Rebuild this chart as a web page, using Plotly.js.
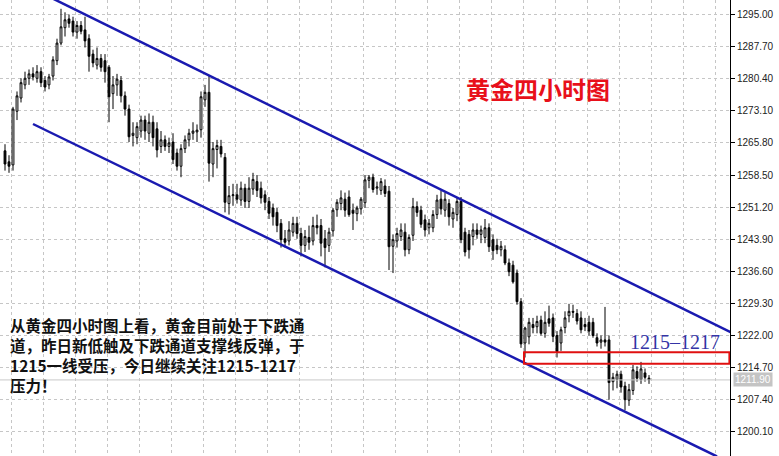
<!DOCTYPE html>
<html>
<head>
<meta charset="utf-8">
<script src="https://cdn.plot.ly/plotly-3.0.1.min.js"></script>
<style>html,body{margin:0;padding:0;background:#fff;}#chart{width:779px;height:456px;}</style>
</head>
<body>
<div id="chart"></div>
<script>
// ---- data ----
const openP = [1264.0,1261.5,1260.8,1273.0,1276.0,1279.0,1280.5,1281.5,1280.5,1282.0,1280.0,1279.0,1281.0,1284.5,1288.5,1292.0,1294.0,1293.5,1291.0,1292.5,
1291.5,1289.5,1286.0,1283.5,1285.0,1284.5,1283.0,1277.0,1279.0,1280.0,1276.5,1273.5,1267.5,1267.0,1268.5,1271.0,1268.0,1270.5,1269.0,1265.0,
1266.5,1265.0,1266.0,1263.5,1260.5,1264.5,1266.5,1268.0,1268.3,1268.8,1275.6,1277.3,1261.0,1264.3,1265.0,1262.5,1252.0,1253.8,1254.0,1252.8,
1255.5,1252.5,1255.3,1257.0,1255.5,1254.0,1252.5,1251.0,1250.0,1247.5,1244.0,1243.5,1245.5,1247.5,1245.2,1242.5,1244.3,1243.5,1247.0,1247.0,
1244.0,1242.5,1245.8,1250.6,1252.0,1253.0,1253.5,1250.5,1249.7,1250.8,1252.2,1257.3,1258.0,1255.5,1255.0,1256.0,1254.8,1242.3,1243.5,1244.5,
1245.5,1241.5,1244.8,1251.3,1250.5,1248.3,1246.5,1246.5,1249.5,1253.0,1250.5,1252.0,1248.5,1249.5,1252.5,1245.5,1245.0,1244.5,1246.0,1245.0,
1244.3,1246.5,1243.8,1242.5,1241.5,1241.5,1238.5,1238.0,1236.2,1229.7,1220.3,1221.7,1224.5,1224.0,1225.5,1222.5,1225.8,1226.0,1222.0,1220.3,
1223.8,1226.5,1227.5,1227.0,1226.0,1224.5,1225.0,1225.0,1221.5,1220.5,1221.0,1221.0,1211.5,1212.0,1213.2,1210.5,1207.3,1209.5,1213.8,1212.0,
1213.5,1212.3];
const highP = [1265.5,1263.0,1274.0,1277.5,1280.5,1282.0,1282.5,1283.0,1283.5,1283.0,1281.0,1281.5,1285.5,1289.5,1296.3,1295.5,1295.0,1294.5,1293.5,1293.5,
1294.5,1290.5,1287.0,1287.5,1286.0,1286.0,1283.5,1281.0,1281.5,1281.0,1277.5,1274.5,1270.5,1270.5,1272.0,1272.0,1272.5,1272.0,1270.5,1268.5,
1267.5,1267.0,1268.0,1264.5,1265.5,1267.5,1269.0,1270.5,1270.0,1277.5,1279.0,1281.0,1266.0,1266.5,1266.5,1263.5,1256.0,1256.5,1256.5,1257.0,
1256.5,1258.0,1259.0,1258.5,1257.0,1255.0,1253.5,1252.0,1251.0,1248.5,1246.0,1248.0,1249.0,1249.0,1246.5,1246.0,1247.0,1249.0,1249.5,1248.5,
1246.0,1246.5,1251.0,1253.0,1255.0,1254.5,1255.0,1252.0,1251.5,1253.5,1258.5,1258.5,1258.8,1257.0,1257.8,1257.5,1256.0,1245.0,1246.5,1247.5,
1247.5,1245.0,1253.3,1252.5,1251.5,1249.5,1248.5,1250.5,1254.0,1255.0,1254.5,1253.0,1251.0,1253.5,1253.5,1246.5,1246.0,1247.5,1247.5,1247.0,
1248.5,1247.5,1245.0,1244.0,1243.5,1242.5,1239.5,1239.0,1237.0,1230.5,1224.0,1226.0,1226.0,1226.5,1226.5,1227.5,1228.8,1227.0,1223.0,1224.0,
1227.5,1229.2,1229.0,1228.0,1227.5,1226.0,1226.5,1226.0,1222.5,1222.0,1228.5,1222.0,1213.5,1214.0,1214.0,1211.5,1211.0,1215.3,1215.0,1216.0,
1214.5,1213.0];
const lowP = [1259.5,1259.0,1259.5,1271.0,1275.0,1278.0,1279.0,1280.0,1279.5,1278.5,1277.5,1278.0,1280.0,1283.5,1288.0,1290.0,1292.0,1290.0,1289.5,1290.5,
1287.5,1282.0,1283.0,1282.5,1282.0,1279.5,1270.5,1273.5,1276.5,1275.0,1272.0,1266.0,1265.0,1265.5,1267.0,1266.5,1266.0,1265.0,1262.5,1263.5,
1264.0,1263.5,1261.0,1259.5,1258.0,1263.5,1265.0,1266.5,1266.0,1267.0,1274.0,1257.0,1258.0,1260.0,1262.5,1250.0,1249.5,1251.5,1252.0,1251.5,
1251.0,1251.0,1254.0,1253.5,1252.0,1250.5,1248.5,1247.0,1245.5,1242.0,1242.0,1242.5,1244.5,1244.0,1240.0,1241.0,1241.5,1242.5,1245.0,1240.0,
1237.5,1241.0,1244.5,1249.0,1250.5,1249.0,1249.0,1246.0,1248.0,1249.5,1251.0,1255.5,1254.5,1254.0,1254.0,1253.5,1236.9,1236.2,1242.0,1243.5,
1240.0,1240.5,1243.5,1249.0,1246.5,1244.5,1245.0,1245.5,1248.5,1249.5,1249.0,1247.0,1246.5,1248.0,1243.0,1240.0,1239.5,1242.5,1244.0,1243.0,
1243.0,1241.0,1239.2,1240.5,1240.0,1238.0,1235.5,1233.8,1229.0,1219.2,1217.0,1220.0,1222.5,1222.5,1222.0,1221.5,1224.0,1220.5,1217.0,1218.5,
1222.5,1225.0,1226.0,1224.5,1222.5,1223.0,1222.0,1221.5,1219.5,1219.0,1219.5,1207.4,1209.5,1210.0,1209.0,1205.0,1206.0,1208.5,1211.5,1211.0,
1211.5,1211.0];
const closeP = [1261.0,1260.5,1273.5,1276.5,1279.5,1280.5,1281.5,1280.8,1282.0,1279.5,1278.5,1280.8,1284.7,1288.5,1292.2,1293.8,1293.0,1291.0,1292.5,1291.2,
1289.0,1285.5,1284.0,1285.0,1283.0,1282.0,1276.3,1279.0,1280.3,1276.5,1273.5,1267.2,1268.0,1269.5,1271.0,1268.5,1270.5,1267.0,1264.2,1266.5,
1265.0,1265.8,1262.0,1260.5,1264.5,1266.5,1268.0,1268.5,1268.7,1276.3,1277.3,1261.2,1264.5,1265.2,1263.3,1252.3,1253.8,1254.0,1253.0,1255.5,
1252.5,1255.5,1257.5,1255.0,1253.3,1252.3,1249.8,1249.0,1247.0,1243.8,1243.2,1246.0,1247.5,1245.2,1242.5,1244.5,1243.2,1247.0,1246.5,1243.0,
1242.0,1245.5,1250.5,1252.3,1253.3,1250.5,1249.5,1249.8,1251.0,1253.0,1257.4,1258.0,1255.2,1255.8,1257.0,1254.3,1242.2,1243.8,1245.2,1246.0,
1241.5,1244.3,1251.3,1250.0,1247.3,1246.0,1247.5,1249.5,1252.8,1250.8,1253.0,1249.0,1250.0,1252.5,1243.8,1241.0,1241.5,1246.0,1245.0,1246.0,
1246.5,1242.2,1241.3,1241.5,1242.3,1238.5,1236.5,1234.2,1229.7,1220.1,1223.7,1225.0,1223.8,1225.2,1222.5,1225.0,1224.8,1221.8,1218.3,1223.3,
1226.0,1227.5,1227.3,1225.3,1223.3,1224.0,1223.0,1222.0,1220.3,1221.0,1220.5,1211.3,1212.5,1213.2,1210.3,1207.4,1209.7,1214.2,1212.3,1214.4,
1212.5,1211.9];
const yTicks = [1200.1,1207.4,1214.7,1222.0,1229.3,1236.6,1243.9,1251.2,1258.5,1265.8,1273.1,1280.4,1287.7,1295.0];
const lastPrice = 1211.90;
const upperX = [12, 182], upperY = [1298.6, 1222.5];
const lowerX = [7, 178], lowerY = [1270.1, 1194.5];
const zoneX = [129.75, 181.1], zoneY = [1215.6, 1218.2];
const zoneLabel = '1215\u20131217';
const titleText = '黄金四小时图';
const noteLines = [
  '从黄金四小时图上看，黄金目前处于下跌通',
  '道，昨日新低触及下跌通道支撑线反弹，于',
  '1215一线受压，今日继续关注1215-1217',
  '压力！'
];

const xIdx = closeP.map((_, i) => i);
const xRange = [-1.25, 181.25];

const traces = [
  {type:'scatter', mode:'lines', x:xRange, y:[lastPrice,lastPrice],
   line:{color:'#c8c8c8', width:1}, hoverinfo:'skip'},
  {type:'candlestick', x:xIdx, open:openP, high:highP, low:lowP, close:closeP,
   whiskerwidth:0,
   increasing:{line:{color:'#000000', width:1}, fillcolor:'#ffffff'},
   decreasing:{line:{color:'#000000', width:1}, fillcolor:'#000000'}},
  {type:'scatter', mode:'lines', x:upperX, y:upperY, line:{color:'#1a1ab0', width:2.5}, hoverinfo:'skip'},
  {type:'scatter', mode:'lines', x:lowerX, y:lowerY, line:{color:'#1a1ab0', width:2.5}, hoverinfo:'skip'}
];

const annotations = [
  {xref:'paper', yref:'paper', x:0.737, y:0.805, xanchor:'center', yanchor:'middle', showarrow:false,
   text:'<b>'+titleText+'</b>', font:{family:'Noto Sans CJK SC', size:24, color:'#e8101a'}},
  {xref:'x', yref:'y', x:179.3, y:1220.5, xanchor:'right', yanchor:'middle', showarrow:false,
   text:zoneLabel, font:{family:'Liberation Serif', size:20, color:'#3434a6'}},
  {xref:'paper', yref:'y', x:1, xshift:3, y:lastPrice, xanchor:'left', yanchor:'middle', showarrow:false,
   text:lastPrice.toFixed(2), bgcolor:'#c4c4c4', borderpad:1,
   font:{family:'Liberation Sans', size:10, color:'#ffffff'}}
];
const lineY = [325, 345, 365, 385];
noteLines.forEach((t, i) => {
  annotations.push({xref:'paper', yref:'paper', x:8/730, y:1 - lineY[i]/456, xanchor:'left', yanchor:'middle',
    showarrow:false, text:'<b>'+t+'</b>', font:{family:'Noto Sans CJK SC', size:15.5, color:'#111111'}});
});

const layout = {
  width:779, height:456,
  margin:{l:0, r:49, t:0, b:0},
  paper_bgcolor:'#ffffff', plot_bgcolor:'#ffffff',
  showlegend:false, boxgap:0.35,
  xaxis:{range:xRange, showticklabels:false, ticks:'', zeroline:false, showline:false,
    rangeslider:{visible:false}, tickmode:'linear', tick0:1.5, dtick:8,
    showgrid:true, gridcolor:'#c6c6c6', griddash:'3px,3px', gridwidth:1, fixedrange:true},
  yaxis:{range:[1194.6, 1298.3], side:'right', tickmode:'array', tickvals:yTicks,
    ticktext:yTicks.map(v => v.toFixed(2)), ticks:'outside', ticklen:4, tickcolor:'#000',
    showline:true, linecolor:'#000', linewidth:1, zeroline:false,
    showgrid:true, gridcolor:'#c6c6c6', griddash:'3px,3px', gridwidth:1,
    tickfont:{family:'Liberation Sans', size:10, color:'#222'}, automargin:false, fixedrange:true},
  shapes:[
    {type:'rect', xref:'x', yref:'y', x0:zoneX[0], x1:zoneX[1], y0:zoneY[0], y1:zoneY[1],
     line:{color:'#e01010', width:2}, fillcolor:'rgba(0,0,0,0)'}
  ],
  annotations:annotations
};

Plotly.newPlot('chart', traces, layout, {displayModeBar:false, staticPlot:true});
</script>
</body>
</html>
